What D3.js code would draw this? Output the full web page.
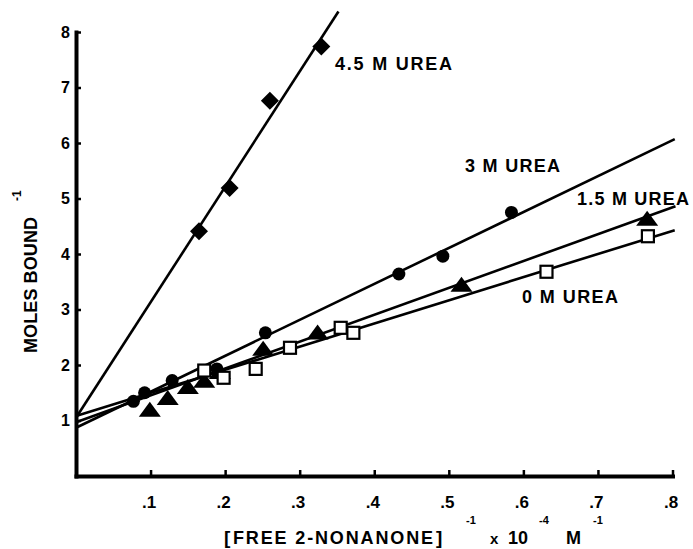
<!DOCTYPE html>
<html>
<head>
<meta charset="utf-8">
<script src="https://cdn.jsdelivr.net/npm/d3@7"></script>
<style>
  body { margin: 0; background: #fff; }
  svg { display: block; }
  text { font-family: "Liberation Sans", Arial, Helvetica, sans-serif; font-weight: bold; fill: #000; }
</style>
</head>
<body>
<svg id="chart" width="693" height="549"></svg>
<script>
// Axis ticks
const xTickValues = [0.1, 0.2, 0.3, 0.4, 0.5, 0.6, 0.7, 0.8];
const yTickValues = [1, 2, 3, 4, 5, 6, 7, 8];

// 0 M urea (open squares)
const urea0X = [0.172, 0.198, 0.241, 0.287, 0.355, 0.372, 0.631, 0.767];
const urea0Y = [1.90, 1.77, 1.93, 2.31, 2.67, 2.58, 3.68, 4.32];

// 1.5 M urea (filled triangles)
const urea15X = [0.099, 0.123, 0.150, 0.172, 0.193, 0.251, 0.324, 0.517, 0.766];
const urea15Y = [1.19, 1.40, 1.60, 1.71, 1.87, 2.29, 2.58, 3.44, 4.63];

// 3 M urea (filled circles)
const urea3X = [0.077, 0.092, 0.129, 0.189, 0.254, 0.433, 0.492, 0.584];
const urea3Y = [1.345, 1.50, 1.72, 1.93, 2.58, 3.64, 3.96, 4.75];

// 4.5 M urea (filled diamonds)
const urea45X = [0.165, 0.206, 0.260, 0.329];
const urea45Y = [4.41, 5.19, 6.76, 7.74];

// Fitted lines: intercept at x = 0 and the far end point
const fitNames = ["0 M UREA", "1.5 M UREA", "3 M UREA", "4.5 M UREA"];
const fitIntercept = [1.08, 0.97, 0.87, 1.05];
const fitEndX = [0.803, 0.804, 0.803, 0.352];
const fitEndY = [4.43, 4.86, 6.07, 8.37];

const svg = d3.select("#chart");
svg.append("rect").attr("width", 693).attr("height", 549).attr("fill", "#fff");

const x = d3.scaleLinear().domain([0, 0.8]).range([76, 672.5]);
const y = d3.scaleLinear().domain([0, 8]).range([476, 32]);

// Fitted lines
const line = d3.line().x(d => x(d[0])).y(d => y(d[1]));
fitNames.forEach((name, i) => {
  svg.append("path")
    .attr("d", line([[0, fitIntercept[i]], [fitEndX[i], fitEndY[i]]]))
    .attr("fill", "none")
    .attr("stroke", "#000")
    .attr("stroke-width", 2.6);
});

// Axes
const fmt = d => d3.format(".1f")(d).replace(/^0/, "");
const xAxis = svg.append("g")
  .attr("transform", `translate(0,${y(0)})`)
  .call(d3.axisBottom(x).tickValues(xTickValues).tickFormat(fmt).tickSize(-6).tickSizeOuter(0).tickPadding(20));
const yAxis = svg.append("g")
  .attr("transform", `translate(${x(0)},0)`)
  .call(d3.axisLeft(y).tickValues(yTickValues).tickFormat(d3.format("d")).tickSize(-5).tickSizeOuter(0).tickPadding(6));

[xAxis, yAxis].forEach(g => {
  g.select(".domain").attr("stroke", "#000").attr("stroke-width", 4).attr("stroke-linecap", "square");
  g.selectAll(".tick line").attr("stroke", "#000").attr("stroke-width", 2.5);
  g.selectAll(".tick text").attr("font-family", null).style("font-weight", "bold").attr("fill", "#000");
});
xAxis.selectAll(".tick text").style("font-size", "17px").attr("dx", "-2");
yAxis.selectAll(".tick text").style("font-size", "16px");

// Markers
const circles = d3.zip(urea3X, urea3Y);
svg.append("g").selectAll("circle").data(circles).join("circle")
  .attr("cx", d => x(d[0])).attr("cy", d => y(d[1])).attr("r", 6.5).attr("fill", "#000");

const diamond = (cx, cy, r) => `M${cx},${cy - r}L${cx + r},${cy}L${cx},${cy + r}L${cx - r},${cy}Z`;
svg.append("g").selectAll("path").data(d3.zip(urea45X, urea45Y)).join("path")
  .attr("d", d => diamond(x(d[0]), y(d[1]), 9)).attr("fill", "#000");

const tri = (cx, cy, w, h) => `M${cx - w / 2},${cy + h * 0.45}L${cx + w / 2},${cy + h * 0.45}L${cx},${cy - h * 0.55}Z`;
svg.append("g").selectAll("path").data(d3.zip(urea15X, urea15Y)).join("path")
  .attr("d", d => tri(x(d[0]), y(d[1]), 22, 15)).attr("fill", "#000");

svg.append("g").selectAll("rect").data(d3.zip(urea0X, urea0Y)).join("rect")
  .attr("x", d => x(d[0]) - 6).attr("y", d => y(d[1]) - 6)
  .attr("width", 12).attr("height", 12)
  .attr("fill", "#fff").attr("stroke", "#000").attr("stroke-width", 2.2);

// Series labels
const labelPos = [[522, 303, 96], [577, 205, 112], [465, 172, 95], [335, 70, 117]];
fitNames.forEach((name, i) => {
  svg.append("text")
    .attr("x", labelPos[i][0]).attr("y", labelPos[i][1])
    .attr("textLength", labelPos[i][2]).attr("lengthAdjust", "spacing")
    .style("font-size", "18px")
    .text(name);
});

// Y axis title
const yt = svg.append("text")
  .attr("transform", "translate(37,353) rotate(-90)")
  .style("font-size", "18px");
yt.append("tspan").attr("x", 0).attr("y", 0).attr("textLength", 136).attr("lengthAdjust", "spacing").text("MOLES BOUND");
yt.append("tspan").attr("x", 152).attr("y", -16).style("font-size", "12px").text("-1");

// X axis title
const xt = svg.append("g");
xt.append("text").attr("x", 224).attr("y", 544).style("font-size", "19px").text("[");
xt.append("text").attr("x", 233).attr("y", 544).attr("textLength", 200).attr("lengthAdjust", "spacing")
  .style("font-size", "18px").text("FREE 2-NONANONE");
xt.append("text").attr("x", 436).attr("y", 544).style("font-size", "19px").text("]");
const xtRest = [["-1", 466, 524, 11], ["x", 490, 544, 15], ["10", 508, 544, 18], ["-4", 539, 524, 11], ["M", 566, 544, 18], ["-1", 593, 524, 11]];
xtRest.forEach(p => {
  xt.append("text").attr("x", p[1]).attr("y", p[2]).style("font-size", p[3] + "px").text(p[0]);
});
</script>
</body>
</html>
